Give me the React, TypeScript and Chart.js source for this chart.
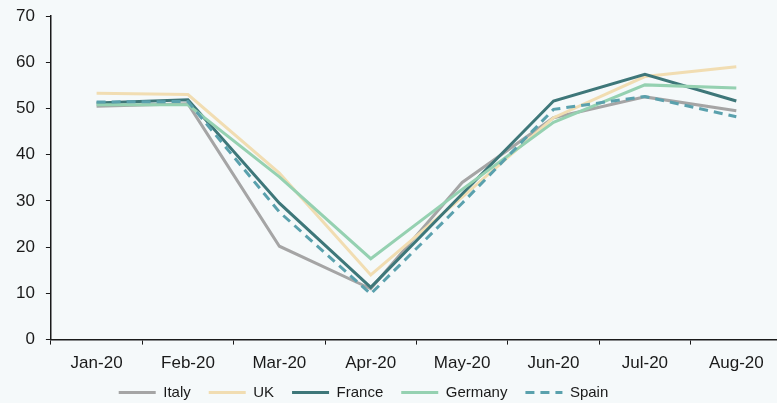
import React, { useEffect, useRef } from "react";
import { Chart, registerables } from "chart.js";

Chart.register(...registerables);

const months = ["Jan-20", "Feb-20", "Mar-20", "Apr-20", "May-20", "Jun-20", "Jul-20", "Aug-20"];
const italy = [50.5, 51.0, 20.2, 11.0, 34.0, 48.0, 52.5, 49.5];
const uk = [53.3, 53.0, 36.0, 14.0, 30.8, 48.0, 56.9, 59.0];
const france = [51.2, 51.9, 29.5, 11.3, 31.5, 51.6, 57.4, 51.6];
const germany = [50.8, 50.8, 35.2, 17.5, 32.5, 47.0, 55.1, 54.4];
const spain = [51.4, 51.5, 27.6, 9.9, 29.5, 49.8, 52.6, 48.2];
const yTicks = { min: 0, max: 70, step: 10 };

const BG = "#F5F9FA";
const TEXT = "#1a1a1a";
const FONT = "'Liberation Sans', Arial, sans-serif";

const legendShift = {
  id: "legendShift",
  afterLayout(chart: any) {
    const l = chart.legend;
    if (!l) return;
    const dx = -30;
    const dy = -16;
    l.left += dx;
    l.right += dx;
    l.top += dy;
    l.bottom += dy;
  },
};

export default function App() {
  const ref = useRef<HTMLCanvasElement | null>(null);

  useEffect(() => {
    if (!ref.current) return;
    const mk = (label: string, data: number[], color: string, order: number, dash?: number[]) => ({
      label,
      data,
      borderColor: color,
      backgroundColor: color,
      borderWidth: 3,
      borderDash: dash || [],
      pointRadius: 0,
      pointHoverRadius: 0,
      pointStyle: "line",
      tension: 0,
      fill: false,
      order,
    });
    const chart = new Chart(ref.current, {
      type: "line",
      data: {
        labels: months,
        datasets: [
          mk("Italy", italy, "#A5A5A5", 5),
          mk("UK", uk, "#F1DDB2", 4),
          mk("France", france, "#3E7779", 3),
          mk("Germany", germany, "#95D1B1", 2),
          mk("Spain", spain, "#5AA1AD", 1, [9, 6]),
        ],
      },
      options: {
        animation: false,
        responsive: true,
        maintainAspectRatio: false,
        layout: { padding: { top: 0, left: 5, right: 2, bottom: -23 } },
        plugins: {
          tooltip: { enabled: false },
          legend: {
            position: "bottom",
            labels: {
              usePointStyle: true,
              pointStyleWidth: 37,
              padding: 18,
              color: TEXT,
              font: { family: FONT, size: 15 },
              sort: (a: any, b: any) => a.datasetIndex - b.datasetIndex,
              generateLabels: (chart: any) => {
                const items = Chart.defaults.plugins.legend.labels.generateLabels(chart);
                return items.map((it: any) => {
                  const ds: any = chart.data.datasets[it.datasetIndex];
                  return { ...it, lineDash: ds.borderDash || [], lineWidth: 3, strokeStyle: ds.borderColor };
                });
              },
            },
          },
        },
        scales: {
          x: {
            offset: true,
            grid: { display: true, drawOnChartArea: false, offset: true, tickLength: 5, color: TEXT },
            border: { display: true, color: TEXT, width: 1.5 },
            ticks: { color: TEXT, font: { family: FONT, size: 17 }, maxRotation: 0, autoSkip: false, padding: 9 },
          },
          y: {
            min: yTicks.min,
            max: yTicks.max,
            grid: { display: true, drawOnChartArea: false, tickLength: 5, color: TEXT },
            border: { display: true, color: TEXT, width: 1.5 },
            ticks: { stepSize: yTicks.step, color: TEXT, font: { family: FONT, size: 17 }, padding: 11 },
            afterFit: (scale: any) => {
              scale.paddingTop = 16;
            },
          },
        },
      },
      plugins: [legendShift],
    });
    return () => chart.destroy();
  }, []);

  return (
    <div style={{ position: "fixed", left: 0, top: 0, width: 777, height: 403, overflow: "hidden", background: BG }}>
      <div style={{ position: "relative", width: 784, height: 403 }}>
        <canvas ref={ref} />
      </div>
    </div>
  );
}
